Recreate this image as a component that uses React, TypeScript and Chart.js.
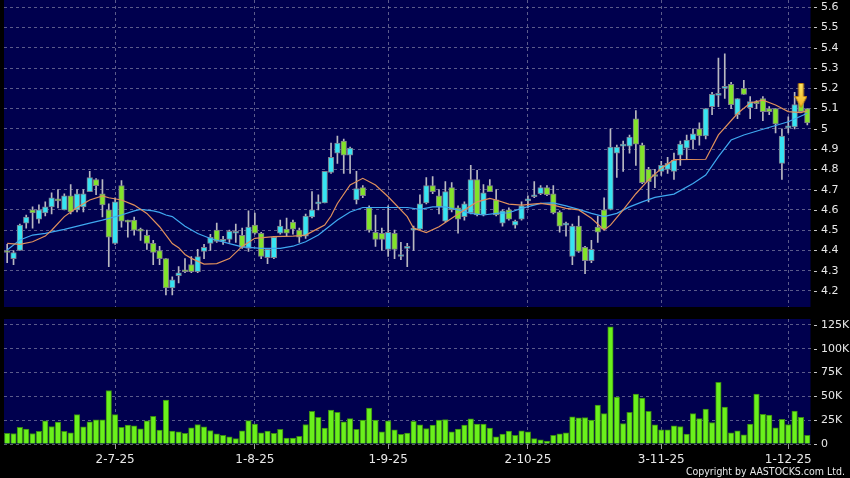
import React, { useEffect, useRef } from 'react';
import { Chart, registerables } from 'chart.js';

Chart.register(...registerables);

// ---------- DATA ----------
const dates: string[] = [
  '6-6-25', '9-6-25', '10-6-25', '11-6-25', '12-6-25', '13-6-25',
  '16-6-25', '17-6-25', '18-6-25', '19-6-25', '20-6-25',
  '23-6-25', '24-6-25', '25-6-25', '26-6-25', '27-6-25', '30-6-25',
  '2-7-25', '3-7-25', '4-7-25',
  '7-7-25', '8-7-25', '9-7-25', '10-7-25', '11-7-25',
  '14-7-25', '15-7-25', '16-7-25', '17-7-25', '18-7-25',
  '21-7-25', '22-7-25', '23-7-25', '24-7-25', '25-7-25',
  '28-7-25', '29-7-25', '30-7-25', '31-7-25', '1-8-25',
  '4-8-25', '5-8-25', '6-8-25', '7-8-25', '8-8-25',
  '11-8-25', '12-8-25', '13-8-25', '14-8-25', '15-8-25',
  '18-8-25', '19-8-25', '20-8-25', '21-8-25', '22-8-25',
  '25-8-25', '26-8-25', '27-8-25', '28-8-25', '29-8-25',
  '1-9-25', '2-9-25', '3-9-25', '4-9-25', '5-9-25',
  '8-9-25', '9-9-25', '10-9-25', '11-9-25', '12-9-25',
  '15-9-25', '16-9-25', '17-9-25', '18-9-25', '19-9-25',
  '22-9-25', '23-9-25', '24-9-25', '25-9-25', '26-9-25',
  '29-9-25', '30-9-25', '2-10-25', '3-10-25',
  '6-10-25', '8-10-25', '9-10-25', '10-10-25',
  '13-10-25', '14-10-25', '15-10-25', '16-10-25', '17-10-25',
  '20-10-25', '21-10-25', '22-10-25', '23-10-25', '24-10-25',
  '27-10-25', '28-10-25', '29-10-25', '30-10-25', '31-10-25',
  '3-11-25', '4-11-25', '5-11-25', '6-11-25', '7-11-25',
  '10-11-25', '11-11-25', '12-11-25', '13-11-25', '14-11-25',
  '17-11-25', '18-11-25', '19-11-25', '20-11-25', '21-11-25',
  '24-11-25', '25-11-25', '26-11-25', '27-11-25', '28-11-25',
  '1-12-25', '2-12-25', '3-12-25', '4-12-25',
];

const tickDates: string[] = ['2-7-25', '1-8-25', '1-9-25', '2-10-25', '3-11-25', '1-12-25'];

const opens: number[] = [
  4.40, 4.36, 4.40, 4.535, 4.60, 4.555, 4.585, 4.615, 4.652, 4.60,
  4.67, 4.60, 4.615, 4.69, 4.75, 4.68, 4.60, 4.435, 4.72, 4.545,
  4.55, 4.505, 4.475, 4.435, 4.40, 4.36, 4.215, 4.275, 4.30, 4.33,
  4.295, 4.395, 4.435, 4.50, 4.445, 4.455, 4.485, 4.475, 4.41, 4.525,
  4.485, 4.365, 4.365, 4.485, 4.505, 4.54, 4.50, 4.47, 4.565, 4.63,
  4.635, 4.785, 4.88, 4.94, 4.87, 4.65, 4.71, 4.61, 4.49, 4.485,
  4.405, 4.485, 4.37, 4.41, 4.50, 4.505, 4.635, 4.72, 4.67, 4.545,
  4.71, 4.61, 4.567, 4.585, 4.75, 4.575, 4.72, 4.65, 4.535, 4.60,
  4.525, 4.555, 4.645, 4.665, 4.68, 4.71, 4.68, 4.59, 4.525, 4.37,
  4.52, 4.415, 4.35, 4.515, 4.60, 4.603, 4.88, 4.915, 4.915, 5.05,
  4.92, 4.80, 4.77, 4.79, 4.80, 4.79, 4.87, 4.905, 4.945, 5.00,
  4.965, 5.11, 5.165, 5.20, 5.22, 5.07, 5.20, 5.105, 5.13, 5.15,
  5.10, 5.10, 4.83, 5.005, 5.01, 5.135, 5.10,
];

const highs: number[] = [
  4.43, 4.40, 4.53, 4.575, 4.615, 4.625, 4.64, 4.685, 4.70, 4.68,
  4.725, 4.70, 4.70, 4.79, 4.755, 4.75, 4.63, 4.66, 4.745, 4.55,
  4.565, 4.51, 4.50, 4.45, 4.42, 4.36, 4.27, 4.32, 4.36, 4.37,
  4.405, 4.43, 4.48, 4.535, 4.47, 4.50, 4.53, 4.51, 4.595, 4.585,
  4.49, 4.41, 4.47, 4.55, 4.56, 4.55, 4.51, 4.58, 4.69, 4.675,
  4.79, 4.93, 4.965, 4.95, 4.91, 4.79, 4.72, 4.62, 4.575, 4.51,
  4.62, 4.50, 4.44, 4.435, 4.52, 4.675, 4.76, 4.765, 4.70, 4.74,
  4.735, 4.62, 4.64, 4.82, 4.795, 4.725, 4.75, 4.70, 4.60, 4.61,
  4.55, 4.64, 4.67, 4.74, 4.72, 4.72, 4.72, 4.595, 4.54, 4.53,
  4.57, 4.42, 4.45, 4.57, 4.66, 5.00, 4.92, 4.94, 4.97, 5.09,
  4.93, 4.81, 4.80, 4.84, 4.86, 4.88, 4.94, 4.97, 5.00, 5.03,
  5.10, 5.18, 5.35, 5.37, 5.23, 5.15, 5.24, 5.16, 5.14, 5.16,
  5.11, 5.10, 5.00, 5.06, 5.18, 5.15, 5.10,
];

const lows: number[] = [
  4.34, 4.33, 4.40, 4.51, 4.51, 4.535, 4.57, 4.58, 4.61, 4.60,
  4.58, 4.59, 4.59, 4.69, 4.675, 4.565, 4.32, 4.43, 4.515, 4.465,
  4.475, 4.45, 4.405, 4.33, 4.33, 4.18, 4.18, 4.24, 4.29, 4.29,
  4.29, 4.36, 4.40, 4.44, 4.43, 4.44, 4.44, 4.41, 4.395, 4.48,
  4.36, 4.335, 4.36, 4.48, 4.47, 4.48, 4.44, 4.46, 4.56, 4.60,
  4.635, 4.78, 4.83, 4.78, 4.78, 4.63, 4.66, 4.49, 4.42, 4.40,
  4.37, 4.36, 4.355, 4.32, 4.40, 4.50, 4.63, 4.68, 4.58, 4.54,
  4.59, 4.485, 4.55, 4.58, 4.57, 4.57, 4.69, 4.57, 4.52, 4.55,
  4.51, 4.55, 4.61, 4.66, 4.675, 4.67, 4.58, 4.49, 4.47, 4.33,
  4.39, 4.285, 4.34, 4.44, 4.50, 4.60, 4.76, 4.79, 4.88, 4.82,
  4.73, 4.64, 4.71, 4.77, 4.78, 4.75, 4.82, 4.85, 4.90, 4.92,
  4.95, 5.07, 5.11, 5.15, 5.10, 5.05, 5.17, 5.05, 5.10, 5.04,
  5.07, 4.98, 4.75, 4.98, 5.00, 5.08, 5.02,
];

const closes: number[] = [
  4.39, 4.39, 4.525, 4.565, 4.585, 4.60, 4.615, 4.66, 4.645, 4.67,
  4.59, 4.68, 4.68, 4.76, 4.72, 4.625, 4.465, 4.64, 4.545, 4.54,
  4.50, 4.495, 4.435, 4.39, 4.36, 4.215, 4.255, 4.29, 4.295, 4.295,
  4.37, 4.415, 4.465, 4.445, 4.455, 4.495, 4.49, 4.415, 4.515, 4.485,
  4.37, 4.405, 4.465, 4.52, 4.485, 4.505, 4.465, 4.57, 4.60, 4.635,
  4.79, 4.86, 4.93, 4.87, 4.905, 4.705, 4.67, 4.50, 4.455, 4.455,
  4.49, 4.405, 4.372, 4.412, 4.505, 4.63, 4.72, 4.69, 4.615, 4.69,
  4.60, 4.555, 4.63, 4.75, 4.575, 4.685, 4.69, 4.575, 4.595, 4.555,
  4.545, 4.62, 4.648, 4.675, 4.71, 4.675, 4.585, 4.52, 4.535, 4.52,
  4.395, 4.35, 4.405, 4.49, 4.505, 4.91, 4.91, 4.925, 4.96, 4.925,
  4.735, 4.74, 4.765, 4.82, 4.83, 4.845, 4.925, 4.945, 4.975, 4.965,
  5.10, 5.17, 5.175, 5.205, 5.12, 5.15, 5.17, 5.135, 5.125, 5.085,
  5.085, 5.025, 4.965, 5.012, 5.12, 5.085, 5.03,
];

// volume in thousands of shares
const volumes: number[] = [
  11.1, 11, 17.4, 15.6, 11, 13.2, 24.3, 18.4, 22.9, 13.2,
  11.8, 30.9, 18, 23.2, 25.3, 25.3, 56.2, 30.9, 17.4, 19.8,
  19.1, 16, 24.3, 29.1, 14.6, 46.2, 13.5, 12.8, 11.1, 17,
  20.5, 18, 14.2, 10.8, 9, 7.6, 5.6, 13.9, 24.6, 20.8,
  11.8, 13.5, 11.1, 15.3, 6.2, 6.2, 8, 20.5, 34.4, 28.1,
  16.7, 35.7, 33.3, 23.2, 26.7, 15.3, 25, 37.8, 25, 12.8,
  24.3, 14.9, 10.1, 11.5, 23.9, 20.1, 16.3, 19.8, 25, 25.7,
  12.8, 15.6, 19.8, 26.4, 20.8, 20.8, 16.7, 7.6, 10.4, 13.5,
  9, 13.9, 12.8, 5.6, 4.5, 3.1, 9, 10.8, 11.8, 28.5,
  27.4, 27.8, 25, 40.9, 31.9, 123.2, 49.3, 21.5, 33.3, 52.4,
  48.2, 34.4, 20.1, 14.9, 14.9, 19.1, 18.4, 10.4, 31.9, 26.7,
  36.8, 22.6, 64.9, 38.9, 11.8, 13.9, 9.7, 20.8, 52.4, 31.2,
  30.5, 17, 26, 20.5, 34.7, 28.1, 9,
];

// moving averages: [candle index, value]
const maShortPoints: number[][] = [
  [0, 4.435], [2, 4.43], [4, 4.443], [6, 4.471], [7, 4.50], [9, 4.567], [11, 4.612],
  [13, 4.649], [15, 4.669], [16, 4.66], [18, 4.649], [20, 4.624], [22, 4.583], [24, 4.517],
  [25, 4.476], [26, 4.434], [27, 4.414], [28, 4.38], [29, 4.361], [31, 4.333], [33, 4.335],
  [35, 4.36], [37, 4.42], [39, 4.46], [42, 4.468], [45, 4.471], [47, 4.476], [49, 4.509],
  [50, 4.525], [51, 4.57], [52, 4.632], [54, 4.723], [56, 4.756], [58, 4.723], [60, 4.665],
  [63, 4.567], [64, 4.51], [66, 4.488], [68, 4.517], [70, 4.559], [72, 4.60], [74, 4.64],
  [76, 4.657], [77, 4.649], [79, 4.629], [81, 4.624], [84, 4.632], [86, 4.624], [88, 4.608],
  [90, 4.60], [92, 4.559], [94, 4.501], [95, 4.525], [97, 4.60], [99, 4.68], [101, 4.748],
  [103, 4.805], [105, 4.848], [110, 4.85], [112, 4.97], [115, 5.076], [117, 5.128],
  [119, 5.142], [121, 5.118], [123, 5.085], [125, 5.08], [126, 5.09],
];

const maLongPoints: number[][] = [
  [0, 4.402], [2, 4.452], [4, 4.476], [6, 4.484], [9, 4.504], [13, 4.535], [15, 4.55],
  [18, 4.575], [20, 4.595], [21, 4.603], [23, 4.595], [24, 4.588], [25, 4.575], [26, 4.567],
  [28, 4.52], [30, 4.484], [32, 4.459], [35, 4.434], [37, 4.418], [40, 4.41], [43, 4.41],
  [45, 4.421], [47, 4.443], [49, 4.476], [50, 4.501], [52, 4.55], [54, 4.59], [56, 4.612],
  [58, 4.612], [60, 4.612], [63, 4.612], [65, 4.603], [67, 4.615], [69, 4.615], [71, 4.60],
  [73, 4.583], [75, 4.575], [77, 4.583], [79, 4.586], [81, 4.608], [84, 4.632], [86, 4.635],
  [88, 4.62], [90, 4.603], [92, 4.583], [94, 4.567], [96, 4.583], [98, 4.615], [100, 4.64],
  [102, 4.662], [105, 4.678], [108, 4.73], [110, 4.772], [112, 4.863], [114, 4.945],
  [116, 4.97], [119, 4.998], [123, 5.035], [126, 5.077],
];

const priceTickLabels: string[] = ['4.2', '4.3', '4.4', '4.5', '4.6', '4.7', '4.8', '4.9', '5', '5.1', '5.2', '5.3', '5.4', '5.5', '5.6'];
const volumeTickValues: number[] = [0, 25, 50, 75, 100, 125];
const volumeTickLabels: string[] = ['0', '25K', '50K', '75K', '100K', '125K'];

const arrowMarker = { date: '3-12-25', value: 5.165 };

// ---------- STYLE ----------
const NAVY = '#00004e';
const GRID = 'rgba(165,165,190,0.55)';
const TEXT = '#e8e8e8';
const CYAN = '#36e4f2';
const GREEN = '#82e32a';
const BODY_BORDER = '#7c7c8c';
const WICK = '#b8b8c0';
const MA_SHORT = '#e0905c';
const MA_LONG = '#3fa8f0';
const VOL_FILL = '#6af01c';
const VOL_BORDER = '#3a8a12';
const FONT = 'DejaVu Sans';

const panelBg = {
  id: 'panelBg',
  beforeDraw(chart: any) {
    const { ctx, chartArea: a } = chart;
    ctx.save();
    ctx.fillStyle = NAVY;
    ctx.fillRect(a.left, a.top, a.right - a.left, a.bottom - a.top);
    ctx.restore();
  },
};

function sparse(points: number[][]): (number | null)[] {
  const arr: (number | null)[] = dates.map(() => null);
  points.forEach(([i, v]) => { arr[i] = v; });
  return arr;
}

function makeArrow(): HTMLCanvasElement {
  const c = document.createElement('canvas');
  c.width = 13;
  c.height = 25;
  const g = c.getContext('2d')!;
  const grad = g.createLinearGradient(0, 0, 0, 25);
  grad.addColorStop(0, '#ffe866');
  grad.addColorStop(1, '#f2b020');
  g.fillStyle = grad;
  g.strokeStyle = '#c08010';
  g.lineWidth = 1;
  g.beginPath();
  g.moveTo(4, 0.5);
  g.lineTo(9, 0.5);
  g.lineTo(9, 13.5);
  g.lineTo(12.5, 13.5);
  g.lineTo(6.5, 24.5);
  g.lineTo(0.5, 13.5);
  g.lineTo(4, 13.5);
  g.closePath();
  g.fill();
  g.stroke();
  return c;
}

const filterDateTicks = (scale: any) => {
  scale.ticks = scale.ticks.filter((t: any) => tickDates.includes(dates[t.value]));
};

const fitRightAxis = (s: any) => {
  s.width = 39.5;
  s.paddingTop = 0;
  s.paddingBottom = 0;
};

export default function App() {
  const priceRef = useRef<HTMLCanvasElement>(null);
  const volRef = useRef<HTMLCanvasElement>(null);

  useEffect(() => {
    Chart.defaults.font.family = FONT;
    const bodies = dates.map((_, i) => [opens[i], closes[i]]);
    const wicks = dates.map((_, i) => [lows[i], highs[i]]);
    const bodyColors = dates.map((_, i) => (closes[i] >= opens[i] ? CYAN : GREEN));
    const arrowData = dates.map((d) => (d === arrowMarker.date ? arrowMarker.value : null));
    const priceTickValues = priceTickLabels.map(Number);

    const priceChart = new Chart(priceRef.current!, {
      type: 'bar',
      data: {
        labels: dates,
        datasets: [
          {
            type: 'line', label: 'marker', data: arrowData as any, showLine: false,
            pointStyle: makeArrow() as any, pointRadius: 6, order: -1,
          },
          {
            type: 'line', label: 'MA short', data: sparse(maShortPoints) as any, borderColor: MA_SHORT,
            borderWidth: 1.2, pointRadius: 0, spanGaps: true, tension: 0, order: 0,
          },
          {
            type: 'line', label: 'MA long', data: sparse(maLongPoints) as any, borderColor: MA_LONG,
            borderWidth: 1.2, pointRadius: 0, spanGaps: true, tension: 0, order: 0,
          },
          {
            type: 'bar', label: 'body', data: bodies as any, backgroundColor: bodyColors,
            borderColor: BODY_BORDER, borderWidth: 1, borderSkipped: false, barThickness: 5.6,
            grouped: false, minBarLength: 2, order: 1,
          } as any,
          {
            type: 'bar', label: 'wick', data: wicks as any, backgroundColor: WICK,
            borderWidth: 0, barThickness: 1, grouped: false, order: 2,
          } as any,
        ],
      },
      options: {
        animation: false,
        responsive: false,
        maintainAspectRatio: false,
        events: [],
        layout: { autoPadding: false, padding: { left: 4, right: 0, top: 0, bottom: 0 } },
        plugins: { legend: { display: false }, tooltip: { enabled: false } },
        scales: {
          x: {
            type: 'category',
            offset: true,
            afterBuildTicks: filterDateTicks,
            afterFit: (s: any) => { s.height = 0; s.paddingLeft = 0; s.paddingRight = 0; },
            ticks: { display: false, autoSkip: false },
            grid: { offset: false, color: GRID, drawTicks: false, lineWidth: 1 },
            border: { display: false, dash: [3, 3] },
          },
          y: {
            position: 'right',
            min: 4.121,
            max: 5.636,
            afterBuildTicks: (s: any) => { s.ticks = priceTickValues.map((v) => ({ value: v })); },
            afterFit: fitRightAxis,
            ticks: {
              autoSkip: false,
              color: TEXT,
              font: { size: 11, family: FONT },
              padding: 3,
              callback: (v: any) => {
                const k = priceTickValues.findIndex((t) => Math.abs(t - Number(v)) < 1e-6);
                return '- ' + (k >= 0 ? priceTickLabels[k] : '');
              },
            },
            grid: { color: GRID, drawTicks: false, lineWidth: 1 },
            border: { display: false, dash: [3, 3] },
          },
        },
      } as any,
      plugins: [panelBg],
    });

    const volChart = new Chart(volRef.current!, {
      type: 'bar',
      data: {
        labels: dates,
        datasets: [
          {
            label: 'volume', data: volumes, backgroundColor: VOL_FILL, borderColor: VOL_BORDER,
            borderWidth: 1, borderSkipped: 'start', barThickness: 5.5,
          } as any,
        ],
      },
      options: {
        animation: false,
        responsive: false,
        maintainAspectRatio: false,
        events: [],
        layout: { autoPadding: false, padding: { left: 4, right: 0, top: 12, bottom: 0 } },
        plugins: { legend: { display: false }, tooltip: { enabled: false } },
        scales: {
          x: {
            type: 'category',
            offset: true,
            afterBuildTicks: filterDateTicks,
            afterFit: (s: any) => { s.height = 34; s.paddingLeft = 0; s.paddingRight = 0; },
            ticks: {
              autoSkip: false, maxRotation: 0, color: TEXT,
              font: { size: 12, family: FONT }, padding: 4,
            },
            grid: {
              offset: false, color: GRID, drawTicks: true, tickLength: 5,
              tickColor: '#9a9a9a', tickBorderDash: [], lineWidth: 1,
            },
            border: { display: false, dash: [3, 3] },
          },
          y: {
            position: 'right',
            min: 0,
            max: 131.3,
            afterBuildTicks: (s: any) => { s.ticks = volumeTickValues.map((v) => ({ value: v })); },
            afterFit: fitRightAxis,
            ticks: {
              autoSkip: false,
              color: TEXT,
              font: { size: 11, family: FONT },
              padding: 3,
              callback: (v: any) => {
                const k = volumeTickValues.indexOf(Number(v));
                return '- ' + (k >= 0 ? volumeTickLabels[k] : '');
              },
            },
            grid: { color: GRID, drawTicks: false, lineWidth: 1 },
            border: { display: false, dash: [3, 3] },
          },
        },
      } as any,
      plugins: [panelBg],
    });

    return () => {
      priceChart.destroy();
      volChart.destroy();
    };
  }, []);

  return (
    <div style={{ position: 'absolute', left: 0, top: 0, width: 850, height: 478, background: '#000', overflow: 'hidden' }}>
      <canvas ref={priceRef} width={850} height={307} style={{ position: 'absolute', left: 0, top: 0, width: 850, height: 307, display: 'block' }} />
      <canvas ref={volRef} width={850} height={171} style={{ position: 'absolute', left: 0, top: 307, width: 850, height: 171, display: 'block' }} />
      <div
        style={{
          position: 'absolute', right: 5, top: 465, fontFamily: '"DejaVu Sans", sans-serif',
          fontSize: 10.5, fontStretch: 'condensed', color: TEXT, whiteSpace: 'nowrap', lineHeight: '13px',
        }}
      >
        Copyright by AASTOCKS.com Ltd.
      </div>
    </div>
  );
}
